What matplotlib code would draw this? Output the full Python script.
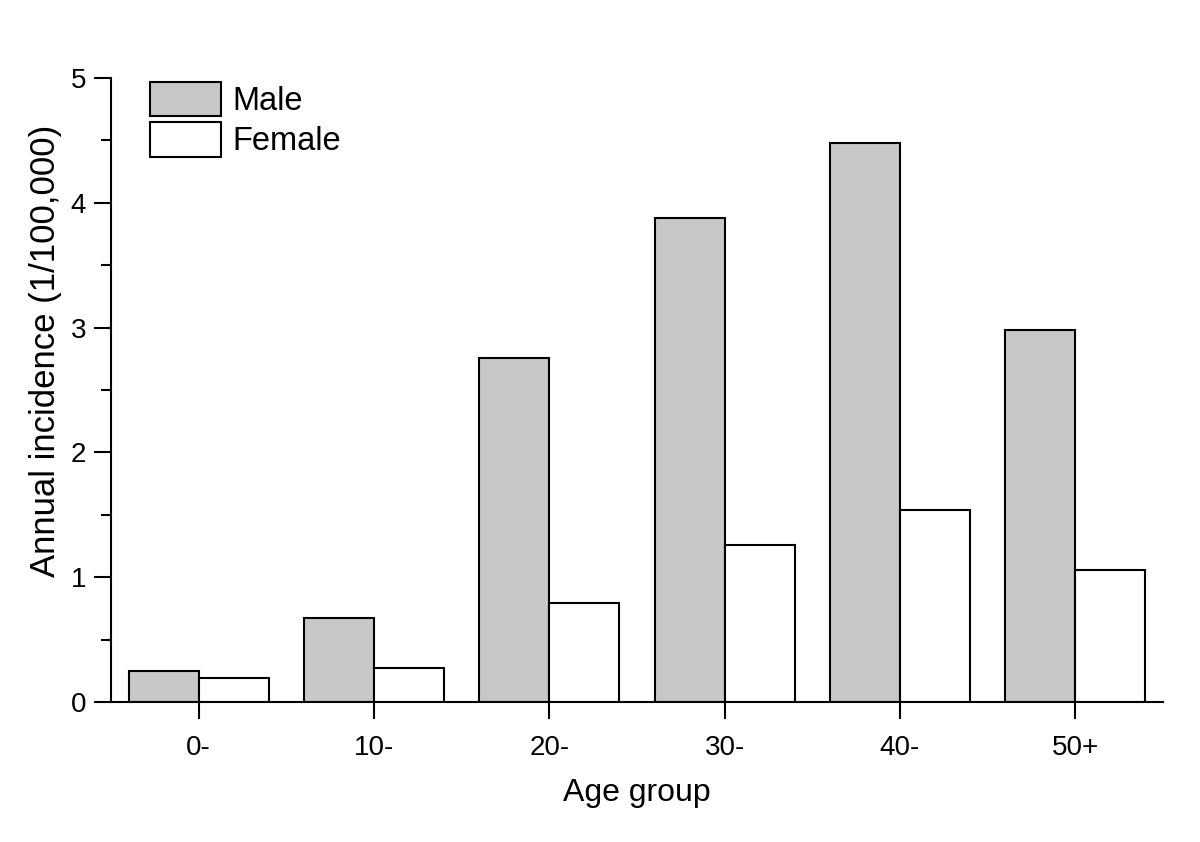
import matplotlib
matplotlib.use("Agg")
import matplotlib.pyplot as plt
import numpy as np
from matplotlib.patches import Patch
from matplotlib.ticker import MultipleLocator

plt.rcParams['font.family'] = ['Liberation Sans', 'DejaVu Sans']

age_groups = ["0-", "10-", "20-", "30-", "40-", "50+"]
male = [0.25, 0.67, 2.76, 3.88, 4.48, 2.98]
female = [0.19, 0.27, 0.79, 1.26, 1.54, 1.06]

fig = plt.figure(figsize=(12, 8.42), dpi=100)
ax = fig.add_axes([111/1200, 1 - 702/842, (1163-111)/1200, (702-78)/842])

x = np.arange(len(age_groups))
w = 0.4
ax.bar(x - w/2, male, w, color="#c8c8c8", edgecolor="black", linewidth=1.5)
ax.bar(x + w/2, female, w, color="white", edgecolor="black", linewidth=1.5)

ax.set_xlim(-0.5, 5.5)
ax.set_ylim(0, 5)
ax.set_xticks(x)
ax.set_xticklabels(age_groups)
ax.yaxis.set_major_locator(MultipleLocator(1))
ax.yaxis.set_minor_locator(MultipleLocator(0.5))
ax.tick_params(axis="both", which="major", direction="out", length=12, width=1.5, labelsize=20, pad=6)
ax.tick_params(axis="y", which="minor", direction="out", length=7, width=1.5)
ax.tick_params(axis="x", which="major", pad=12)

for s in ["top", "right"]:
    ax.spines[s].set_visible(False)
for s in ["left", "bottom"]:
    ax.spines[s].set_linewidth(1.5)

ax.set_xlabel("Age group", fontsize=23, labelpad=12)
ax.set_ylabel("Annual incidence (1/100,000)", fontsize=25)
ax.yaxis.set_label_coords(-0.047, 0.5625)

handles = [Patch(facecolor="#c8c8c8", edgecolor="black", linewidth=1.5, label="Male"),
           Patch(facecolor="white", edgecolor="black", linewidth=1.5, label="Female")]
ax.legend(handles=handles, loc="upper left", bbox_to_anchor=(0.037, 0.994), frameon=False,
          fontsize=23.5, handlelength=2.18, handleheight=1.25, handletextpad=0.35, labelspacing=0.16,
          borderpad=0, borderaxespad=0)

fig.savefig("out.png", dpi=100)
